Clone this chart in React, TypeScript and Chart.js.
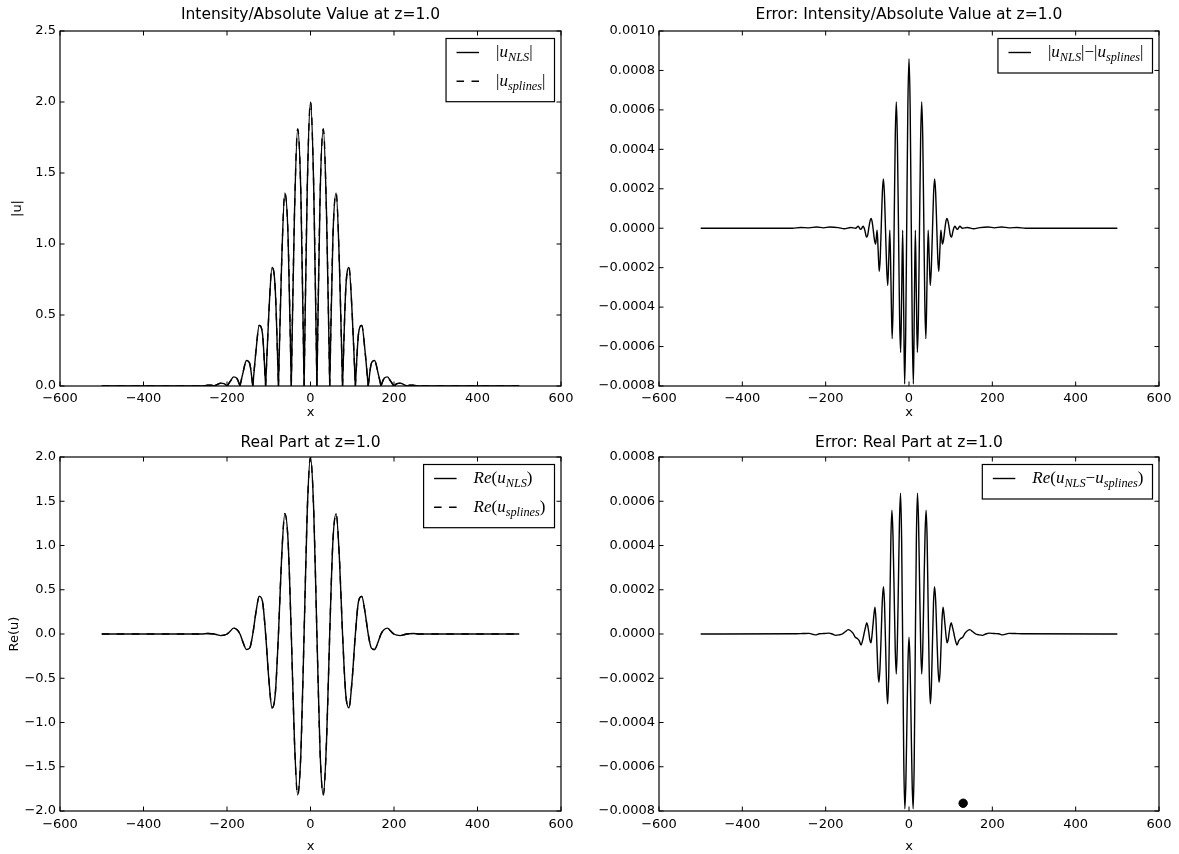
import React, { useEffect, useRef } from "react";
import { Chart, registerables } from "chart.js";

Chart.register(...registerables);

const FONT = "'DejaVu Sans', 'Bitstream Vera Sans', sans-serif";
const MATH_FONT = "'Liberation Serif', 'DejaVu Serif', serif";
Chart.defaults.font.family = FONT;
Chart.defaults.color = "#000";

// ---------- tick labels ----------
const xTicks = [-600, -400, -200, 0, 200, 400, 600];
const absTicks = [0, 0.5, 1, 1.5, 2, 2.5];
const reTicks = [-2, -1.5, -1, -0.5, 0, 0.5, 1, 1.5, 2];
const absErrTicks = [-0.0008, -0.0006, -0.0004, -0.0002, 0, 0.0002, 0.0004, 0.0006, 0.0008, 0.001];
const reErrTicks = [-0.0008, -0.0006, -0.0004, -0.0002, 0, 0.0002, 0.0004, 0.0006, 0.0008];

// ---------- titles / labels ----------
const titles = [
  "Intensity/Absolute Value at z=1.0",
  "Error: Intensity/Absolute Value at z=1.0",
  "Real Part at z=1.0",
  "Error: Real Part at z=1.0",
];
const xLabel = "x";
const yLabels = ["|u|", "", "Re(u)", ""];

// ---------- |u| (null = break at a cusp) ----------
const absX = [
  -500,
  -260.95, -253.3, -245.6, -237.9, -230.25, -230.25,
  -230.25, -222.6, -214.9, -207.2, -199.55, -199.55,
  -199.55, -191.9, -184.2, -176.5, -168.85, -168.85,
  -168.85, -161.2, -153.5, -145.8, -138.15, -138.15,
  -138.15, -130.5, -122.8, -115.1, -107.45, -107.45,
  -107.45, -99.8, -92.1, -84.4, -76.75, -76.75,
  -76.75, -69.1, -61.4, -53.7, -46.05, -46.05,
  -46.05, -38.4, -30.7, -23.0, -15.35, -15.35,
  -15.35, -7.7, 0, 7.7, 15.35, 15.35,
  15.35, 23.0, 30.7, 38.4, 46.05, 46.05,
  46.05, 53.7, 61.4, 69.1, 76.75, 76.75,
  76.75, 84.4, 92.1, 99.8, 107.45, 107.45,
  107.45, 115.1, 122.8, 130.5, 138.15, 138.15,
  138.15, 145.8, 153.5, 161.2, 168.85, 168.85,
  168.85, 176.5, 184.2, 191.9, 199.55, 199.55,
  199.55, 207.2, 214.9, 222.6, 230.25, 230.25,
  230.25, 237.9, 245.6, 253.3, 260.95,
  500,
];
const absY = [
  0,
  0, 0.003, 0.006, 0.005, 0, null,
  0, 0.011, 0.02, 0.016, 0, null,
  0, 0.034, 0.064, 0.055, 0, null,
  0, 0.1, 0.18, 0.16, 0, null,
  0, 0.25, 0.427, 0.37, 0, null,
  0, 0.51, 0.835, 0.68, 0, null,
  0, 0.87, 1.36, 1.05, 0, null,
  0, 1.21, 1.81, 1.34, 0, null,
  0, 1.4, 2.0, 1.4, 0, null,
  0, 1.34, 1.81, 1.21, 0, null,
  0, 1.05, 1.36, 0.87, 0, null,
  0, 0.68, 0.835, 0.51, 0, null,
  0, 0.37, 0.427, 0.25, 0, null,
  0, 0.16, 0.18, 0.1, 0, null,
  0, 0.055, 0.064, 0.034, 0, null,
  0, 0.016, 0.02, 0.011, 0, null,
  0, 0.005, 0.006, 0.003, 0,
  0,
];

// ---------- Re(u) ----------
const reX = [
  -500, -261, -245.6, -230.3, -222.6, -214.9, -207.2, -199.6, -191.9, -184.2, -176.5, -168.9,
  -161.2, -153.5, -145.8, -138.2, -130.5, -122.8, -115.1, -107.5, -99.8, -92.1, -84.4, -76.75,
  -69.1, -61.4, -53.7, -46, -38.4, -30.7, -23, -15.35, -7.7, 0, 7.7, 15.35,
  23, 30.7, 38.4, 46, 53.7, 61.4, 69.1, 76.75, 84.4, 92.1, 99.8, 107.5,
  115.1, 122.8, 130.5, 138.2, 145.8, 153.5, 161.2, 168.9, 176.5, 184.2, 191.9, 199.6,
  207.2, 214.9, 222.6, 230.3, 245.6, 261, 500,
];
const reY = [
  0, 0, 0.006, 0, -0.01, -0.018, -0.013, 0, 0.034, 0.066, 0.05, 0,
  -0.1, -0.175, -0.16, 0, 0.25, 0.425, 0.37, 0, -0.51, -0.835, -0.68, 0,
  0.87, 1.36, 1.05, 0, -1.21, -1.82, -1.34, 0, 1.4, 2.0, 1.4, 0,
  -1.34, -1.82, -1.21, 0, 1.05, 1.36, 0.87, 0, -0.68, -0.835, -0.51, 0,
  0.37, 0.425, 0.25, 0, -0.16, -0.175, -0.1, 0, 0.05, 0.066, 0.034, 0,
  -0.013, -0.018, -0.01, 0, 0.006, 0, 0,
];

// ---------- |u_NLS| - |u_splines| ----------
const absErrX = [
  -500, -280, -260, -240, -222, -205, -190, -170, -155, -140, -128, -122, -116, -110, -106, -102,
  -99.2, -96.5, -93.7, -91, -88.2, -85.5, -82.8, -80, -78.3, -76.5, -74, -71.5, -69, -66.5, -64,
  -61.5, -58.9, -56.2, -53.6, -51, -48.5, -46, -43.2, -40.5, -38, -35.5, -33, -30.5, -27.9, -25.2,
  -22.6, -20, -17.6, -15.2, -12.8, -10.5, -8, -5.4, -2.8,
  0,
  2.8, 5.4, 8, 10.5, 12.8, 15.2, 17.6, 20, 22.6, 25.2, 27.9, 30.5, 33, 35.5, 38, 40.5, 43.2, 46,
  48.5, 51, 53.6, 56.2, 58.9, 61.5, 64, 66.5, 69, 71.5, 74, 76.5, 78.3, 80, 82.8, 85.5, 88.2, 91,
  93.7, 96.5, 99.2, 102, 106, 110, 116, 122, 128, 140, 155, 170, 190, 205, 222, 240, 260, 280, 500,
];
const absErrY = [
  0, 0, 0.000004, 0.000002, 0.000006, 0.000002, 0.000006, 0.000003, -0.000003, 0.000004, 0, 0.00001,
  -0.000006, 0.00001, -0.00001, -0.000045, -0.000035, 0, 0.000035, 0.00005, 0.00003, -0.000015,
  -0.00006, -0.00008, -0.000045, -0.00001, -0.000115, -0.00022, -0.00015, 0.000015, 0.00018, 0.00025,
  0.00017, -0.00002, -0.0002, -0.00029, -0.00015, -0.00001, -0.00028, -0.00056, -0.00038, 0.00004,
  0.00046, 0.00064, 0.00045, 0, -0.00045, -0.00063, -0.00033, -0.00001, -0.0004, -0.00079, -0.00054,
  0.00003, 0.00061,
  0.00086,
  0.00061, 0.00003, -0.00054, -0.00079, -0.0004, -0.00001, -0.00033, -0.00063, -0.00045, 0, 0.00045,
  0.00064, 0.00046, 0.00004, -0.00038, -0.00056, -0.00028, -0.00001, -0.00015, -0.00029, -0.0002,
  -0.00002, 0.00017, 0.00025, 0.00018, 0.000015, -0.00015, -0.00022, -0.000115, -0.00001, -0.000045,
  -0.00008, -0.00006, -0.000015, 0.00003, 0.00005, 0.000035, 0, -0.000035, -0.000045, -0.00001,
  0.00001, -0.000006, 0.00001, 0, 0.000004, -0.000003, 0.000003, 0.000006, 0.000002, 0.000006,
  0.000002, 0.000004, 0, 0,
];

// ---------- Re(u_NLS - u_splines) ----------
const reErrX = [
  -500, -270, -255, -240, -225, -215, -205, -192, -184, -176, -168, -160, -153, -146, -135, -129,
  -124, -119.5, -115, -111.5, -108, -104.5, -101.3, -99, -96.3, -94, -91.4, -89, -86.5, -84, -81.6,
  -79.4, -77, -74.6, -72.2, -69.5, -66.7, -64, -61.3, -58.8, -56.2, -53.7, -51.2, -48.7, -46, -43.5,
  -41, -38.5, -35.7, -33, -30.5, -28, -25.4, -23, -20.3, -17.7, -15, -12.5, -10, -7.5, -5, -2.5,
  0,
  2.5, 5, 7.5, 10, 12.5, 15, 17.7, 20.3, 23, 25.4, 28, 30.5, 33, 35.7, 38.5, 41, 43.5, 46, 48.7,
  51.2, 53.7, 56.2, 58.8, 61.3, 64, 66.7, 69.5, 72.2, 74.6, 77, 79.4, 81.6, 84, 86.5, 89, 91.4, 94,
  96.3, 99, 101.3, 104.5, 108, 111.5, 115, 119.5, 124, 129, 135, 146, 153, 160, 168, 176, 184, 192,
  205, 215, 225, 240, 255, 270, 500,
];
const reErrY = [
  0, 0.000001, 0.000002, 0.000003, -0.000004, 0.000001, 0.000002, 0.000004, 0, -0.000006, -0.000004,
  0, 0.00001, 0.00002, 0.000005, -0.000015, -0.00002, -0.00003, -0.00005, -0.00003, 0, 0.00003,
  0.000051, 0.000037, 0.000005, -0.000027, -0.00004, -0.00001, 0.00004, 0.00009, 0.000121, 0.00007,
  -0.00005, -0.00017, -0.000218, -0.00015, 0, 0.00015, 0.000214, 0.00014, -0.00005, -0.00024,
  -0.000316, -0.00019, 0.00012, 0.00043, 0.00056, 0.00045, 0.00019, -0.00007, -0.000181, -0.00005,
  0.00023, 0.0005, 0.000636, 0.00043, -0.00008, -0.00058, -0.00079, -0.00067, -0.0004, -0.00013,
  -0.000015,
  -0.00013, -0.0004, -0.00067, -0.00079, -0.00058, -0.00008, 0.00043, 0.000636, 0.0005, 0.00023,
  -0.00005, -0.000181, -0.00007, 0.00019, 0.00045, 0.00056, 0.00043, 0.00012, -0.00019, -0.000316,
  -0.00024, -0.00005, 0.00014, 0.000214, 0.00015, 0, -0.00015, -0.000218, -0.00017, -0.00005,
  0.00007, 0.000121, 0.00009, 0.00004, -0.00001, -0.00004, -0.000027, 0.000005, 0.000037, 0.000051,
  0.00003, 0, -0.00003, -0.00005, -0.00003, -0.00002, -0.000015, 0.000005, 0.00002, 0.00001, 0,
  -0.000004, -0.000006, 0, 0.000004, 0.000002, 0.000001, -0.000004, 0.000003, 0.000002, 0.000001, 0,
];

// single marker in the last panel
const markerX = [130];
const markerY = [-0.000765];

// ---------- helpers ----------
const pts = (xs: number[], ys: (number | null)[]) => xs.map((x, i) => ({ x, y: ys[i] }));
const fmt = (d: number) => (v: number | string) => {
  const n = Number(v);
  const s = Math.abs(n) < 1e-12 ? (0).toFixed(d) : n.toFixed(d);
  return s.replace("-", "\u2212");
};

type Seg = { t: string; sub: boolean; up: boolean };
function parseMath(s: string): Seg[] {
  const segs: Seg[] = [];
  let i = 0;
  while (i < s.length) {
    const c = s[i];
    if (c === "_" && s[i + 1] === "{") {
      const j = s.indexOf("}", i);
      segs.push({ t: s.slice(i + 2, j), sub: true, up: false });
      i = j + 1;
    } else {
      segs.push({ t: c, sub: false, up: "|()\u2212".includes(c) });
      i++;
    }
  }
  return segs;
}
const MAIN = 17;
const SUB = 12.3;
function segFont(sg: Seg) {
  return `${sg.up ? "" : "italic "}${sg.sub ? SUB : MAIN}px ${MATH_FONT}`;
}
function mathWidth(ctx: CanvasRenderingContext2D, segs: Seg[]) {
  let w = 0;
  for (const sg of segs) {
    ctx.font = segFont(sg);
    w += ctx.measureText(sg.t).width;
  }
  return w;
}
function drawMath(ctx: CanvasRenderingContext2D, segs: Seg[], x: number, y: number) {
  ctx.textAlign = "left";
  ctx.textBaseline = "alphabetic";
  for (const sg of segs) {
    ctx.font = segFont(sg);
    ctx.fillText(sg.t, x, y + (sg.sub ? 3.8 : 0));
    x += ctx.measureText(sg.t).width;
  }
}

const framePlugin = {
  id: "frame",
  afterDatasetsDraw(chart: any) {
    const { ctx, chartArea: a, scales } = chart;
    const L = 4.5;
    ctx.save();
    ctx.strokeStyle = "#000";
    ctx.lineWidth = 1;
    ctx.beginPath();
    for (const t of scales.x.ticks) {
      const px = scales.x.getPixelForValue(t.value);
      ctx.moveTo(px, a.bottom);
      ctx.lineTo(px, a.bottom - L);
      ctx.moveTo(px, a.top);
      ctx.lineTo(px, a.top + L);
    }
    for (const t of scales.y.ticks) {
      const py = scales.y.getPixelForValue(t.value);
      ctx.moveTo(a.left, py);
      ctx.lineTo(a.left + L, py);
      ctx.moveTo(a.right, py);
      ctx.lineTo(a.right - L, py);
    }
    ctx.stroke();
    ctx.lineWidth = 1.2;
    ctx.strokeRect(a.left, a.top, a.right - a.left, a.bottom - a.top);
    ctx.restore();
  },
};

const legendPlugin = {
  id: "mathLegend",
  afterDraw(chart: any, _args: any, opts: any) {
    const { ctx, chartArea: a } = chart;
    const items = chart.data.datasets
      .filter((d: any) => d.label)
      .map((d: any) => ({ segs: parseMath(d.label), dash: d.borderDash || [] }));
    if (!items.length) return;
    ctx.save();
    const textW = Math.max(...items.map((it: any) => mathWidth(ctx, it.segs)));
    const boxW = 50 + textW + 9;
    const boxH = 14 + 28.7 * (items.length - 1) + 20.5;
    const right = a.right - (opts.insetRight ?? 6);
    const left = right - boxW;
    const top = a.top + (opts.insetTop ?? 7.5);
    ctx.fillStyle = "#fff";
    ctx.fillRect(left, top, boxW, boxH);
    ctx.strokeStyle = "#000";
    ctx.lineWidth = 1.2;
    ctx.strokeRect(left, top, boxW, boxH);
    items.forEach((it: any, i: number) => {
      const y = top + 14 + 28.7 * i;
      ctx.beginPath();
      ctx.setLineDash(it.dash);
      ctx.lineWidth = 1.4;
      ctx.strokeStyle = "#000";
      ctx.moveTo(left + 10.5, y);
      ctx.lineTo(left + 33, y);
      ctx.stroke();
      ctx.setLineDash([]);
      ctx.fillStyle = "#000";
      drawMath(ctx, it.segs, left + 50, y + 4.5);
    });
    ctx.restore();
  },
};

const solid = (label: string, data: any[]) => ({
  label,
  data,
  borderColor: "#000",
  borderWidth: 1.4,
  pointRadius: 0,
  fill: false,
  cubicInterpolationMode: "monotone",
  spanGaps: false,
});
const dashed = (label: string, data: any[]) => ({
  ...solid(label, data),
  borderDash: [7.5, 7.5],
});

type Box = { left: number; top: number; w: number; h: number };
type Area = { l: number; t: number; r: number; b: number };
type Spec = {
  canvas: Box;
  area: Area;
  title: string;
  titleY: number;
  xTitleY: number;
  xTickPad: number;
  yTitle: string;
  yTitleX: number;
  yMin: number;
  yMax: number;
  yTicks: number[];
  yDec: number;
  datasets: any[];
};

const specs: Spec[] = [
  {
    canvas: { left: 0, top: 0, w: 590, h: 427 },
    area: { l: 60, t: 31, r: 561, b: 386 },
    title: titles[0], titleY: 15, xTitleY: 413, xTickPad: 4.5,
    yTitle: yLabels[0], yTitleX: 18,
    yMin: 0, yMax: 2.5, yTicks: absTicks, yDec: 1,
    datasets: [solid("|u_{NLS}|", pts(absX, absY)), dashed("|u_{splines}|", pts(absX, absY))],
  },
  {
    canvas: { left: 590, top: 0, w: 589, h: 427 },
    area: { l: 659, t: 31, r: 1159, b: 386 },
    title: titles[1], titleY: 15, xTitleY: 413, xTickPad: 4.5,
    yTitle: yLabels[1], yTitleX: 0,
    yMin: -0.0008, yMax: 0.001, yTicks: absErrTicks, yDec: 4,
    datasets: [solid("|u_{NLS}|\u2212|u_{splines}|", pts(absErrX, absErrY))],
  },
  {
    canvas: { left: 0, top: 427, w: 590, h: 427 },
    area: { l: 60, t: 457, r: 561, b: 811 },
    title: titles[2], titleY: 443.3, xTitleY: 846.5, xTickPad: 6,
    yTitle: yLabels[2], yTitleX: 15,
    yMin: -2, yMax: 2, yTicks: reTicks, yDec: 1,
    datasets: [solid("Re(u_{NLS})", pts(reX, reY)), dashed("Re(u_{splines})", pts(reX, reY))],
  },
  {
    canvas: { left: 590, top: 427, w: 589, h: 427 },
    area: { l: 659, t: 457, r: 1159, b: 811 },
    title: titles[3], titleY: 443.3, xTitleY: 846.5, xTickPad: 6,
    yTitle: yLabels[3], yTitleX: 0,
    yMin: -0.0008, yMax: 0.0008, yTicks: reErrTicks, yDec: 4,
    datasets: [
      solid("Re(u_{NLS}\u2212u_{splines})", pts(reErrX, reErrY)),
      {
        data: pts(markerX, markerY),
        showLine: false,
        pointRadius: 4.2,
        pointBackgroundColor: "#000",
        pointBorderColor: "#000",
        pointBorderWidth: 1,
        borderColor: "#000",
      },
    ],
  },
];

function Panel({ spec }: { spec: Spec }) {
  const ref = useRef<HTMLCanvasElement>(null);
  const cv = spec.canvas;
  useEffect(() => {
    const area = spec.area;
    const lhT = 15.5 * 1.2;
    const lh = 13 * 1.2;
    const tPadTop = spec.titleY - cv.top - lhT / 2;
    const tPadBot = area.t - cv.top - lhT - tPadTop;
    const xTitlePadBot = Math.max(0, cv.top + cv.h - spec.xTitleY - lh / 2);
    const tickFont = { family: FONT, size: 13 };
    const chart = new Chart(ref.current as HTMLCanvasElement, {
      type: "line",
      data: { datasets: spec.datasets },
      options: {
        responsive: false,
        animation: false,
        devicePixelRatio: 1,
        layout: { padding: { left: 0, top: 0, bottom: 0, right: cv.left + cv.w - area.r } },
        plugins: {
          legend: { display: false },
          tooltip: { enabled: false },
          title: {
            display: true,
            text: spec.title,
            fullSize: false,
            color: "#000",
            font: { family: FONT, size: 15.5, weight: "normal", lineHeight: 1.2 },
            padding: { top: tPadTop, bottom: tPadBot },
          },
          mathLegend: { insetRight: 6.5, insetTop: 7.5 },
        } as any,
        scales: {
          x: {
            type: "linear",
            min: -600,
            max: 600,
            grid: { display: false, drawTicks: false },
            border: { display: false },
            afterBuildTicks: (s: any) => {
              s.ticks = xTicks.map((v) => ({ value: v }));
            },
            afterFit: (s: any) => {
              s.height = cv.top + cv.h - area.b;
            },
            ticks: {
              padding: spec.xTickPad,
              autoSkip: false,
              maxRotation: 0,
              color: "#000",
              font: tickFont,
              callback: (v: any) => fmt(0)(v),
            },
            title: {
              display: true,
              text: xLabel,
              color: "#000",
              font: { family: FONT, size: 13, lineHeight: 1.2 },
              padding: { top: 0, bottom: xTitlePadBot },
            },
          },
          y: {
            type: "linear",
            min: spec.yMin,
            max: spec.yMax,
            grid: { display: false, drawTicks: false },
            border: { display: false },
            afterBuildTicks: (s: any) => {
              s.ticks = spec.yTicks.map((v) => ({ value: v }));
            },
            afterFit: (s: any) => {
              s.width = area.l - cv.left;
            },
            ticks: {
              padding: 4,
              autoSkip: false,
              color: "#000",
              font: tickFont,
              callback: (v: any) => fmt(spec.yDec)(v),
            },
            title: spec.yTitle
              ? {
                  display: true,
                  text: spec.yTitle,
                  color: "#000",
                  font: { family: FONT, size: 13, lineHeight: 1.2 },
                  padding: { top: spec.yTitleX - cv.left - lh / 2, bottom: 0 },
                }
              : { display: false },
          },
        } as any,
      },
      plugins: [framePlugin, legendPlugin],
    } as any);
    return () => chart.destroy();
  }, []);
  return (
    <canvas
      ref={ref}
      width={cv.w}
      height={cv.h}
      style={{ position: "absolute", left: cv.left, top: cv.top, width: cv.w, height: cv.h }}
    />
  );
}

export default function App() {
  return (
    <div
      style={{
        position: "absolute",
        left: 0,
        top: 0,
        width: 1179,
        height: 854,
        background: "#fff",
        overflow: "hidden",
      }}
    >
      {specs.map((s, i) => (
        <Panel key={i} spec={s} />
      ))}
    </div>
  );
}
